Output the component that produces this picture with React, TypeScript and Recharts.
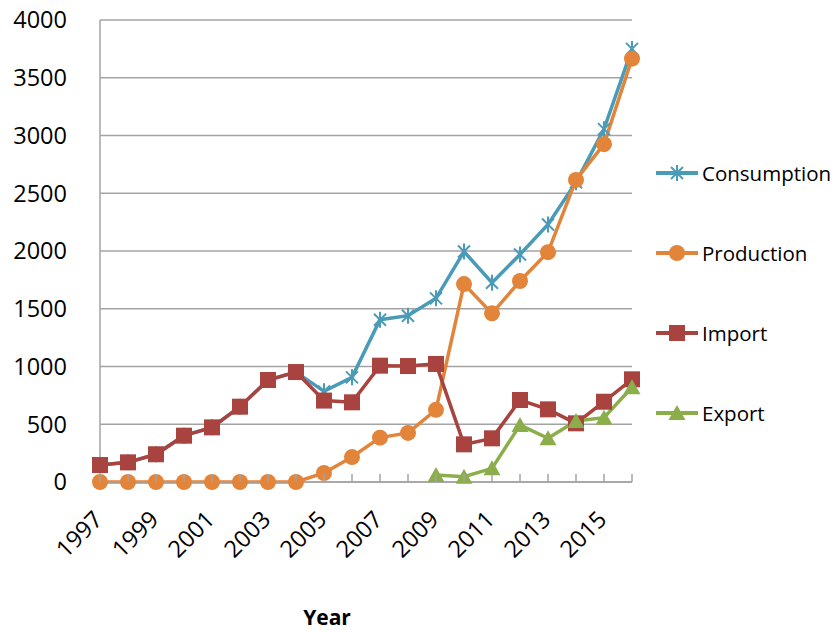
import React from "react";
import { LineChart, Line, XAxis, YAxis, CartesianGrid, Legend, Label } from "recharts";

const years = [
    "1997", "1998", "1999", "2000", "2001", "2002", "2003", "2004", "2005", "2006",
    "2007", "2008", "2009", "2010", "2011", "2012", "2013", "2014", "2015", "2016",
];
const consumption = [147, 170, 240, 401, 473, 652, 883, 952, 785, 906, 1405, 1440, 1590, 1995, 1725, 1970, 2230, 2595, 3055, 3750];
const production = [0, 0, 0, 0, 0, 0, 0, 0, 78, 216, 384, 425, 625, 1714, 1460, 1740, 1990, 2615, 2925, 3665];
const imports = [147, 170, 240, 401, 473, 652, 883, 952, 705, 690, 1007, 1004, 1022, 326, 378, 710, 629, 508, 695, 889];
const exports = [null, null, null, null, null, null, null, null, null, null, null, null, 61, 46, 118, 493, 378, 528, 557, 820];
const yTicks = [0, 500, 1000, 1500, 2000, 2500, 3000, 3500, 4000];

const data = years.map((year, i) => ({
    year,
    consumption: consumption[i],
    production: production[i],
    import: imports[i],
    export: exports[i],
}));

const FONT = "'Open Sans', sans-serif";
const GRID = "#a3a3a3";

const series = [
    { key: "consumption", name: "Consumption", color: "#4a9bb6", marker: "asterisk" },
    { key: "production", name: "Production", color: "#e2843a", marker: "circle" },
    { key: "import", name: "Import", color: "#a8433f", marker: "square" },
    { key: "export", name: "Export", color: "#8bae4b", marker: "triangle" },
];

const drawMarker = (marker: string, cx: number, cy: number, color: string) => {
    if (marker === "asterisk") {
        return (
            <g stroke={color} strokeWidth={2}>
                <line x1={cx - 6} y1={cy - 6} x2={cx + 6} y2={cy + 6} />
                <line x1={cx - 6} y1={cy + 6} x2={cx + 6} y2={cy - 6} />
                <line x1={cx} y1={cy - 8} x2={cx} y2={cy + 8} />
            </g>
        );
    }
    if (marker === "circle") return <circle cx={cx} cy={cy} r={8} fill={color} />;
    if (marker === "square") return <rect x={cx - 8} y={cy - 8} width={16} height={16} fill={color} />;
    return <polygon points={`${cx},${cy - 8} ${cx + 8.5},${cy + 7} ${cx - 8.5},${cy + 7}`} fill={color} />;
};

const makeDot = (marker: string, color: string) => (props: any) => {
    const { cx, cy, index } = props;
    if (cx == null || cy == null || props.value == null) return <g key={index} />;
    return <g key={index}>{drawMarker(marker, cx, cy, color)}</g>;
};

const YearTick = (props: any) => {
    const { x, y, payload } = props;
    const showLabel = Number(payload.value) % 2 === 1;
    const lx = x + 4;
    const ly = y + 39;
    return (
        <g>
            <line x1={x} y1={y - 8} x2={x} y2={y} stroke={GRID} strokeWidth={1.5} />
            {showLabel && (
                <text
                    x={lx}
                    y={ly}
                    textAnchor="end"
                    transform={`rotate(-45 ${lx} ${ly})`}
                    fill="#000"
                    fontSize={23.5}
                    fontFamily={FONT}
                >
                    {payload.value}
                </text>
            )}
        </g>
    );
};

const LegendContent = () => (
    <div style={{ fontFamily: FONT, fontSize: 20.5, color: "#000" }}>
        {series.map((s) => (
            <div key={s.key} style={{ display: "flex", alignItems: "center", height: 80 }}>
                <svg width={44} height={20}>
                    <line x1={0} y1={10} x2={42} y2={10} stroke={s.color} strokeWidth={4} />
                    {drawMarker(s.marker, 21, 10, s.color)}
                </svg>
                <span style={{ marginLeft: 2 }}>{s.name}</span>
            </div>
        ))}
    </div>
);

export default function App() {
    return (
        <div style={{ position: "absolute", left: 0, top: 0, background: "#fff" }}>
            <LineChart width={835} height={632} data={data} margin={{ top: 20, right: 203, bottom: 0, left: 0 }}>
                <CartesianGrid vertical={false} stroke={GRID} strokeWidth={1.5} />
                <XAxis
                    dataKey="year"
                    interval={0}
                    height={150}
                    tickLine={false}
                    tickSize={0}
                    tickMargin={0}
                    axisLine={{ stroke: GRID, strokeWidth: 1.5 }}
                    tick={<YearTick />}
                >
                    <Label
                        value="Year"
                        position="insideBottom"
                        offset={7}
                        dx={-39}
                        fill="#000"
                        fontSize={21}
                        fontWeight="bold"
                        fontFamily={FONT}
                    />
                </XAxis>
                <YAxis
                    width={100}
                    domain={[0, 4000]}
                    ticks={yTicks}
                    interval={0}
                    tickLine={false}
                    tickSize={0}
                    tickMargin={33}
                    axisLine={{ stroke: GRID, strokeWidth: 1.5 }}
                    tick={{ fill: "#000", fontSize: 23.5, fontFamily: FONT }}
                />
                <Legend
                    layout="vertical"
                    align="center"
                    verticalAlign="middle"
                    content={<LegendContent />}
                    wrapperStyle={{ left: 656, top: 133, width: 180 }}
                />
                {series.map((s) => (
                    <Line
                        key={s.key}
                        type="linear"
                        dataKey={s.key}
                        name={s.name}
                        stroke={s.color}
                        strokeWidth={3.5}
                        dot={makeDot(s.marker, s.color)}
                        activeDot={false}
                        isAnimationActive={false}
                    />
                ))}
            </LineChart>
        </div>
    );
}
